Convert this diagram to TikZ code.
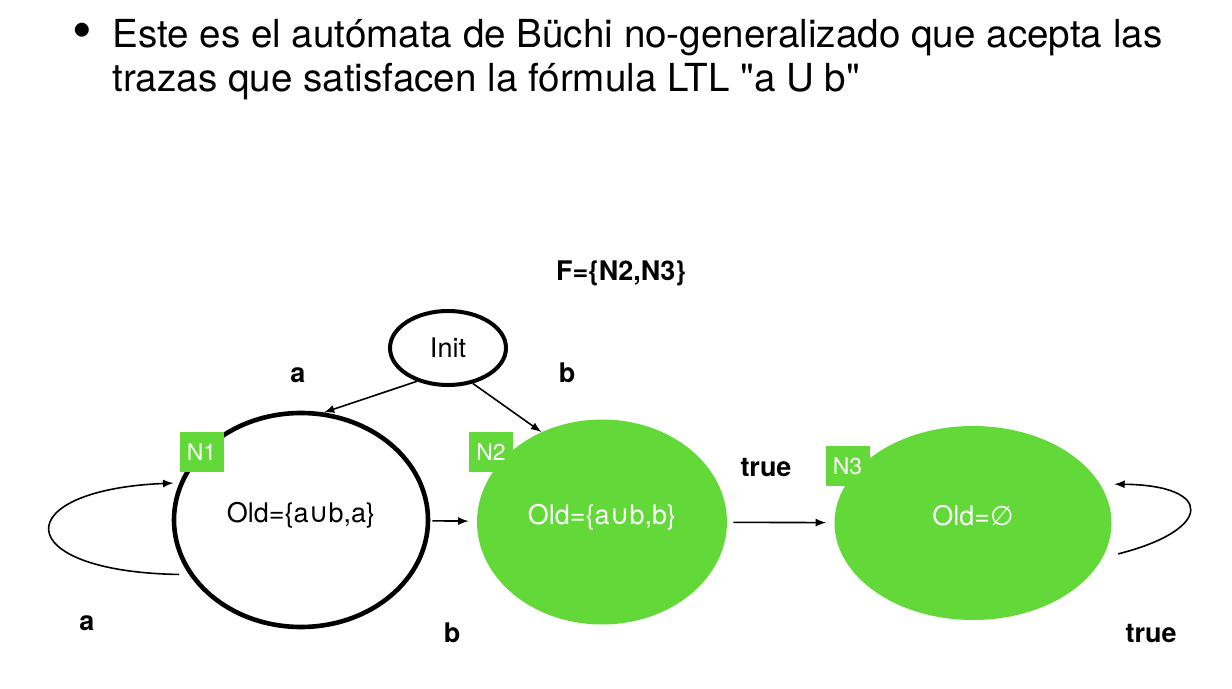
\documentclass[tikz,border=0pt]{standalone}
\usepackage{fontspec}
\setmainfont{TeX Gyre Heros}
\newfontfamily\symfont{DejaVu Sans}
\newfontfamily\quotefont{TeX Gyre Heros}
\usetikzlibrary{shapes,arrows}
\definecolor{cG}{RGB}{99, 217, 57}
\tikzstyle{arrow} = [-latex,line width=0.8pt]
\tikzstyle{StateW}=[ellipse,
		line width=2.3pt,
		inner sep=0pt,
		draw=black,
		fill=white]
\tikzstyle{StateG}=[ellipse,
		inner sep=0pt,
		text depth=8pt,
		text=white,
		fill=cG]
\tikzstyle{Tag}=[rectangle,
		inner sep=0pt,
		minimum width=22pt,
		minimum height=20pt,
		text=white,
		fill=cG,
		font=\fontsize{11.5}{12}\selectfont]
\tikzstyle{Lab}=[font=\fontsize{13.5}{15}\selectfont\bfseries]
\tikzstyle{Head}=[anchor=base west,inner sep=0pt,font=\fontsize{19.3}{23}\selectfont]
\newcommand{\cupsym}{{\symfont ∪}}
\newcommand{\emptysym}{{\symfont ∅}}
\newcommand{\dq}{{\quotefont "}}

\begin{document}
\begin{tikzpicture}[x=0.5pt,y=-0.5pt,font=\fontsize{13.5}{15}\selectfont]
  \useasboundingbox (0,0) rectangle (1232,689);

  % heading
  \node [inner sep=0pt,font=\fontsize{28}{28}\selectfont] (dot) at (82,36) {\textbullet};
  \node [Head] (line1) at (112,48) {Este es el autómata de Büchi no-generalizado que acepta las};
  \node [Head] (line2) at (112,92) {trazas que satisfacen la fórmula LTL \dq a U b\dq};

  \node [Lab] (acc) at (621,273) {F=\{N2,N3\}};

  % states
  \node [StateW,line width=2pt,minimum width=58pt,minimum height=37pt] (Init) at (448,348) {Init};
  \node [StateW,text depth=8pt,minimum width=127pt,minimum height=107pt] (N1) at (301,520) {Old=\{a\cupsym b,a\}};
  \node [StateG,minimum width=125pt,minimum height=102.5pt] (N2) at (602,522) {Old=\{a\cupsym b,b\}};
  \node [StateG,minimum width=138.5pt,minimum height=97pt] (N3) at (973,523) {Old=\emptysym};

  \node [Tag] (t1) at (201.5,452) {N1};
  \node [Tag] (t2) at (491,452) {N2};
  \node [Tag] (t3) at (847.5,466.5) {N3};

  % transitions
  \draw [arrow] (Init.227) -- (N1.78);
  \draw [arrow] (Init.305) -- (N2.124);
  \draw [arrow,shorten <=1pt,shorten >=4pt] (N1) -- (N2);
  \draw [arrow,shorten <=3pt,shorten >=4pt] (N2) -- (N3);
  \draw [arrow,shorten <=5pt,shorten >=3pt] (N1.206) .. controls +(-181,-3) and +(-172,7) .. (N1.163);
  \draw [arrow,shorten <=8pt,shorten >=7pt] (N3.-15) .. controls +(111,-28) and +(114,1) .. (N3.17);

  % labels
  \node [Lab] (la1) at (298,375) {a};
  \node [Lab] (lb1) at (567,373) {b};
  \node [Lab] (lb2) at (452,633) {b};
  \node [Lab] (la2) at (87,623) {a};
  \node [Lab] (lt1) at (766,468) {true};
  \node [Lab] (lt2) at (1151,634) {true};
\end{tikzpicture}
\end{document}
